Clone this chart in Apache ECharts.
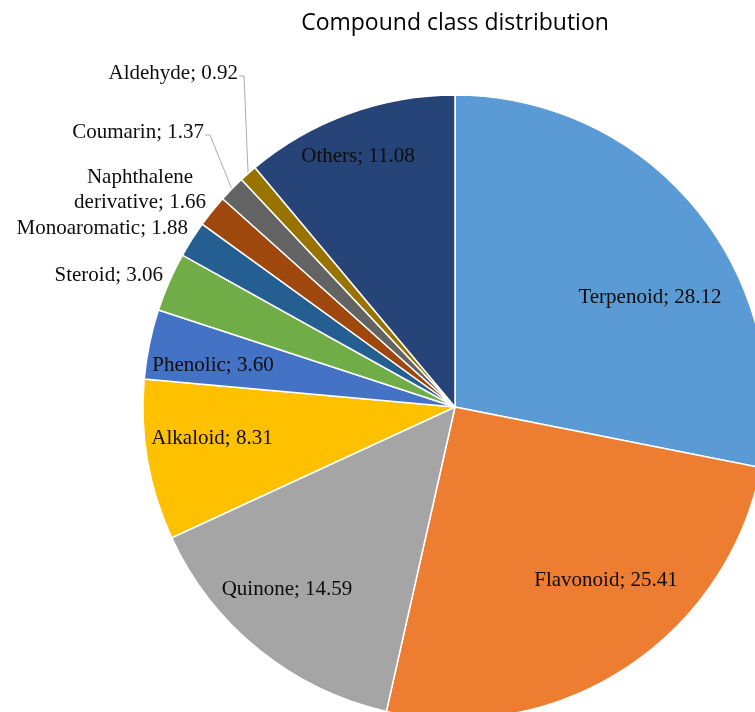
<!DOCTYPE html>
<html>
<head>
<meta charset="utf-8">
<title>Compound class distribution</title>
<script src="https://cdn.jsdelivr.net/npm/echarts@6/dist/echarts.min.js"></script>
<style>
  html, body { margin: 0; padding: 0; background: #fff; }
  #chart { width: 755px; height: 712px; }
</style>
</head>
<body>
<div id="chart"></div>
<script>
// data
const categories = ['Terpenoid', 'Flavonoid', 'Quinone', 'Alkaloid', 'Phenolic', 'Steroid',
  'Monoaromatic', 'Naphthalene\nderivative', 'Coumarin', 'Aldehyde', 'Others'];
const shares = [28.12, 25.41, 14.59, 8.31, 3.60, 3.06, 1.88, 1.66, 1.37, 0.92, 11.08];

// office palette, one per slice
const colors = ['#5B9BD5', '#ED7D31', '#A5A5A5', '#FFC000', '#4472C4', '#70AD47',
  '#255E91', '#9E480E', '#636363', '#997300', '#264478'];

// pie geometry
const cx = 455, cy = 407, R = 312;

// where each label sits, as offset from the pie centre + text align
// 'in' = inside slice, 'out' = outside no line, 'line' = outside with leader line
const labelKind = ['in', 'in', 'in', 'in', 'in', 'out', 'out', 'out', 'line', 'line', 'in'];
const labelSpots = [
  [195, -110, 'center'],
  [151, 173, 'center'],
  [-168, 182, 'center'],
  [-243, 31, 'center'],
  [-242, -42, 'center'],
  [-292, -132, 'right'],
  [-267, -179, 'right'],
  [-315, -217, 'center'],
  [-251, -275, 'right'],
  [-217, -334, 'right'],
  [-97, -251, 'center']
];

const chart = echarts.init(document.getElementById('chart'));

const pieData = categories.map(function (name, i) {
  const kind = labelKind[i];
  return {
    name: name,
    value: shares[i],
    itemStyle: { color: colors[i] },
    label: { position: kind === 'in' ? 'inside' : 'outside' },
    labelLine: { show: kind === 'line', length: 20, length2: 6 }
  };
});

const option = {
  animation: false,
  backgroundColor: '#fff',
  title: {
    text: 'Compound class distribution',
    left: cx,
    top: 12,
    padding: 0,
    textAlign: 'center',
    textStyle: {
      fontFamily: 'Open Sans',
      fontWeight: 'normal',
      fontSize: 23,
      color: '#000'
    }
  },
  series: [
    {
      type: 'pie',
      center: [cx, cy],
      radius: R,
      startAngle: 90,
      clockwise: true,
      avoidLabelOverlap: false,
      silent: true,
      itemStyle: { borderColor: '#fff', borderWidth: 1.5 },
      label: {
        color: '#0d0d0d',
        fontFamily: '"Times New Roman", "Liberation Serif", serif',
        fontSize: 21,
        lineHeight: 25,
        formatter: function (p) {
          return p.name + '; ' + p.value.toFixed(2);
        }
      },
      labelLine: {
        lineStyle: { color: '#ADADAD', width: 1 }
      },
      labelLayout: function (params) {
        const i = params.dataIndex;
        const s = labelSpots[i];
        const x = cx + s[0];
        const y = cy + s[1];
        const res = { x: x, y: y, align: s[2], verticalAlign: 'middle' };
        if (labelKind[i] === 'line' && params.labelLinePoints) {
          const start = params.labelLinePoints[0];
          res.labelLinePoints = [start, [x + 6, y + 3], [x + 1, y + 3]];
        }
        return res;
      },
      data: pieData
    }
  ]
};

chart.setOption(option);
window.addEventListener('resize', function () {
  chart.resize();
});
</script>
</body>
</html>
